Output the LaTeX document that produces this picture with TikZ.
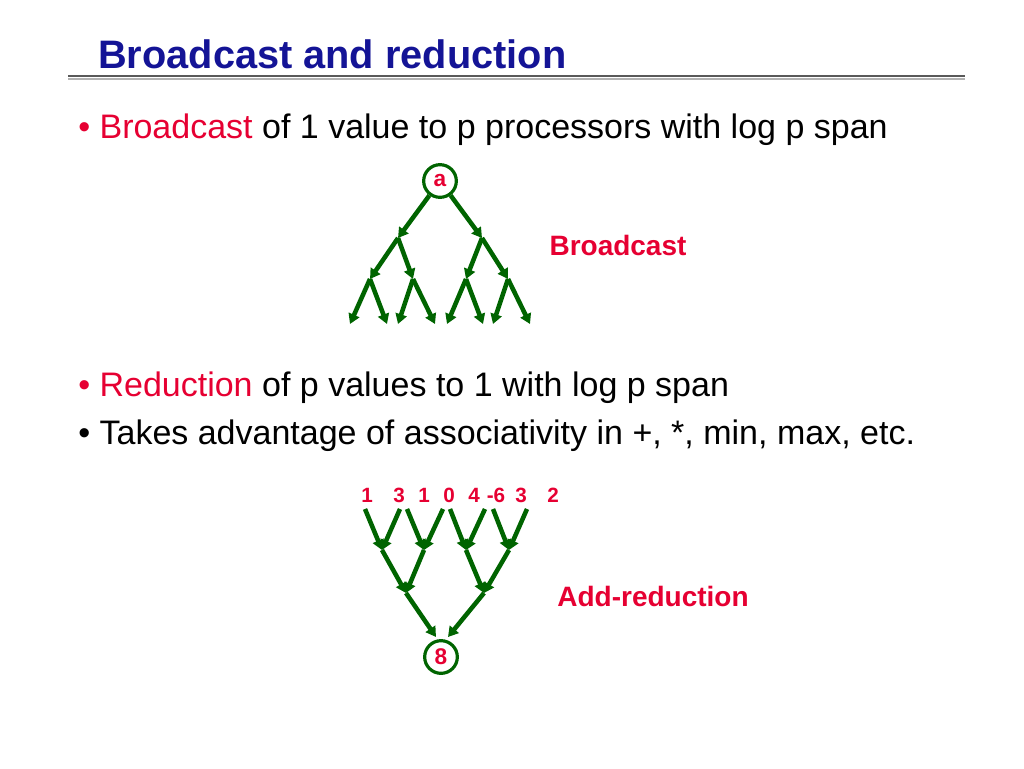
\documentclass[tikz,border=0pt]{standalone}
\usepackage{fontspec}
\setmainfont{Liberation Sans}
\usetikzlibrary{arrows.meta}
\definecolor{tgreen}{RGB}{0,100,0}
\definecolor{tred}{RGB}{230,0,50}
\definecolor{tblue}{RGB}{20,20,150}
\begin{document}
\begin{tikzpicture}[x=0.75pt,y=-0.75pt,
  arr/.style={draw=tgreen,line width=3.4pt,-{Triangle[length=7.5pt,width=8.5pt]}},
  circ/.style={circle,draw=tgreen,line width=2.4pt,minimum size=24.5pt,inner sep=0pt,text=tred,font=\bfseries\fontsize{17}{17}\selectfont},
  lbl/.style={text=tred,font=\bfseries\fontsize{21}{21}\selectfont},
  num/.style={text=tred,font=\bfseries\fontsize{15.5}{15.5}\selectfont},
  txt/.style={anchor=base west,inner sep=0pt,font=\fontsize{25.5}{25.5}\selectfont}]
\useasboundingbox (0,0) rectangle (1024,768);
\node[anchor=base west,inner sep=0pt,text=tblue,font=\bfseries\fontsize{29.8}{29.8}\selectfont] (title) at (98,68) {Broadcast and reduction};
\draw[gray!70!black,line width=1.5pt] (68,76) -- (965,76);
\draw[gray!60,line width=1pt] (68,79) -- (965,79);
\node[txt] (b1) at (78,138) {\textcolor{tred}{• Broadcast} of 1 value to p processors with log p span};
\node[txt] (b2) at (78,396) {\textcolor{tred}{• Reduction} of p values to 1 with log p span};
\node[txt] (b3) at (78,444) {• Takes advantage of associativity in +, *, min, max, etc.};
% broadcast tree
\node[circ] (a) at (440,181) {a};
\coordinate (l1a) at (398,238); \coordinate (l1b) at (482,238);
\coordinate (l2a) at (370,279); \coordinate (l2b) at (413,279);
\coordinate (l2c) at (466,279); \coordinate (l2d) at (508,279);
\foreach \x [count=\i] in {350,387,398,435,447,483,493,530} {\coordinate (lf\i) at (\x,324);}
\draw[arr] (a) -- (l1a); \draw[arr] (a) -- (l1b);
\draw[arr] (l1a) -- (l2a); \draw[arr] (l1a) -- (l2b);
\draw[arr] (l1b) -- (l2c); \draw[arr] (l1b) -- (l2d);
\draw[arr] (l2a) -- (lf1); \draw[arr] (l2a) -- (lf2);
\draw[arr] (l2b) -- (lf3); \draw[arr] (l2b) -- (lf4);
\draw[arr] (l2c) -- (lf5); \draw[arr] (l2c) -- (lf6);
\draw[arr] (l2d) -- (lf7); \draw[arr] (l2d) -- (lf8);
\node[lbl] (bl) at (618,245) {Broadcast};
% reduction
\foreach \x/\t [count=\i] in {367/1,399/3,424/1,449/0,474/4,496/-6,521/3,553/2} {\node[num] (n\i) at (\x,495) {\t};}
\foreach \x [count=\i] in {365,400,407,443,450,485,493,527} {\coordinate (t\i) at (\x,509);}
\coordinate (m1) at (382,550); \coordinate (m2) at (424,550);
\coordinate (m3) at (466,550); \coordinate (m4) at (509,550);
\coordinate (q1) at (406,593); \coordinate (q2) at (484,593);
\draw[arr] (t1) -- (m1); \draw[arr] (t2) -- (m1);
\draw[arr] (t3) -- (m2); \draw[arr] (t4) -- (m2);
\draw[arr] (t5) -- (m3); \draw[arr] (t6) -- (m3);
\draw[arr] (t7) -- (m4); \draw[arr] (t8) -- (m4);
\draw[arr] (m1) -- (q1); \draw[arr] (m2) -- (q1);
\draw[arr] (m3) -- (q2); \draw[arr] (m4) -- (q2);
\node[circ] (e) at (441,657) {8};
\coordinate (e1) at (436,637); \coordinate (e2) at (448,637);
\draw[arr] (q1) -- (e1); \draw[arr] (q2) -- (e2);
\node[lbl] (rl) at (653,596) {Add-reduction};
\end{tikzpicture}
\end{document}
